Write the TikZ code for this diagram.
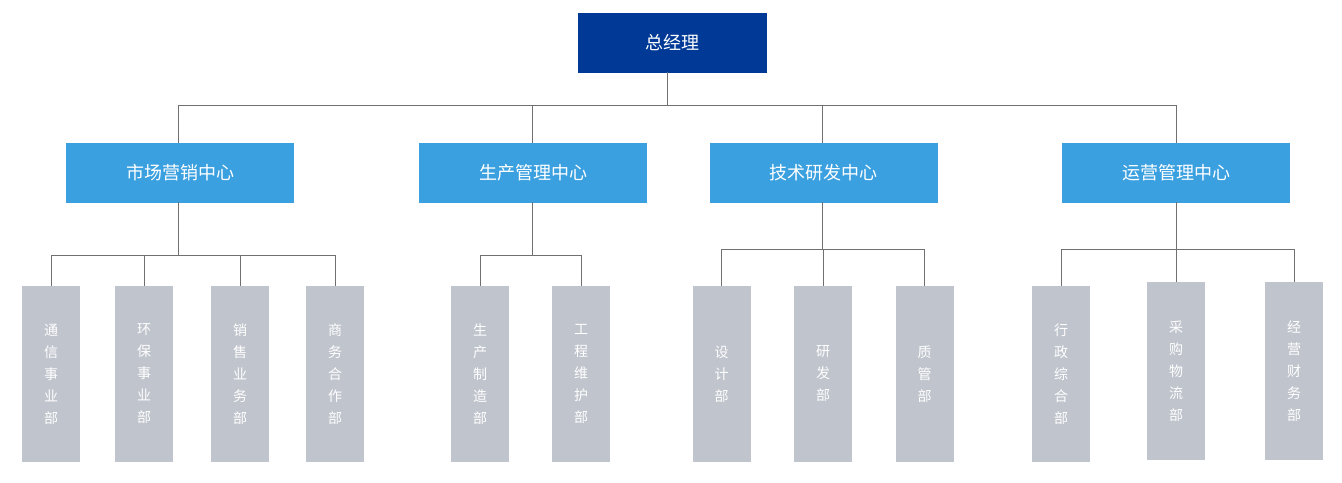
\documentclass[tikz,border=0pt]{standalone}
\usepackage{fontspec}
\setmainfont{Noto Sans CJK SC}
\definecolor{topc}{HTML}{003A96}
\definecolor{midc}{HTML}{3BA0E0}
\definecolor{lowc}{HTML}{C0C4CC}
\definecolor{linec}{HTML}{707070}
\begin{document}
\begin{tikzpicture}[x=0.75pt,y=-0.75pt,
 top/.style={fill=topc,text=white,minimum width=142pt,minimum height=45pt,inner sep=0pt,font=\fontsize{13.5}{16}\selectfont},
 mid/.style={fill=midc,text=white,minimum width=171pt,minimum height=45pt,inner sep=0pt,font=\fontsize{13.5}{16}\selectfont},
 low/.style={fill=lowc,text=white,minimum width=43.5pt,inner sep=0pt,align=center,font=\fontsize{10.5}{16.5}\selectfont},
 ln/.style={draw=linec,line width=0.6pt}]
\useasboundingbox (0,0) rectangle (1342,482);
\node[top] (ceo) at (672.5,42.5) {总经理};
\node[mid] (m1) at (180,172.5) {市场营销中心};
\node[mid] (m2) at (533,172.5) {生产管理中心};
\node[mid] (m3) at (823.5,172.5) {技术研发中心};
\node[mid] (m4) at (1176,172.5) {运营管理中心};
\coordinate (b0) at (667,105);
\draw[ln] (667,72) -- (b0);
\foreach \m/\x in {m1/178,m2/532,m3/822,m4/1176}{\draw[ln] (b0) -| (\x,143);}
% low boxes
\newcommand\lowbox[5]{\node[low,minimum height=#4*0.75pt] (#1) at (#2,#3) {#5};}
\lowbox{a1}{51}{374}{176}{通\\信\\事\\业\\部}
\lowbox{a2}{144}{374}{176}{环\\保\\事\\业\\部}
\lowbox{a3}{240}{374}{176}{销\\售\\业\\务\\部}
\lowbox{a4}{335}{374}{176}{商\\务\\合\\作\\部}
\lowbox{b1}{480}{374}{176}{生\\产\\制\\造\\部}
\lowbox{b2}{581}{374}{176}{工\\程\\维\\护\\部}
\lowbox{c1}{721.5}{374}{176}{设\\计\\部}
\lowbox{c2}{823}{374}{176}{研\\发\\部}
\lowbox{c3}{924.5}{374}{176}{质\\管\\部}
\lowbox{d1}{1061}{374}{176}{行\\政\\综\\合\\部}
\lowbox{d2}{1176}{371}{178}{采\\购\\物\\流\\部}
\lowbox{d3}{1294}{371}{178}{经\\营\\财\\务\\部}
\coordinate (ba) at (178,255);
\draw[ln] (178,202) -- (ba);
\foreach \c in {a1,a2,a3,a4}{\draw[ln] (ba) -| (\c.north);}
\coordinate (bb) at (532,255);
\draw[ln] (532,202) -- (bb);
\foreach \c in {b1,b2}{\draw[ln] (bb) -| (\c.north);}
\coordinate (bc) at (822,249);
\draw[ln] (822,202) -- (bc);
\foreach \c in {c1,c2,c3}{\draw[ln] (bc) -| (\c.north);}
\coordinate (bd) at (1176,249);
\draw[ln] (1176,202) -- (bd);
\foreach \c in {d1,d2,d3}{\draw[ln] (bd) -| (\c.north);}
\end{tikzpicture}
\end{document}
